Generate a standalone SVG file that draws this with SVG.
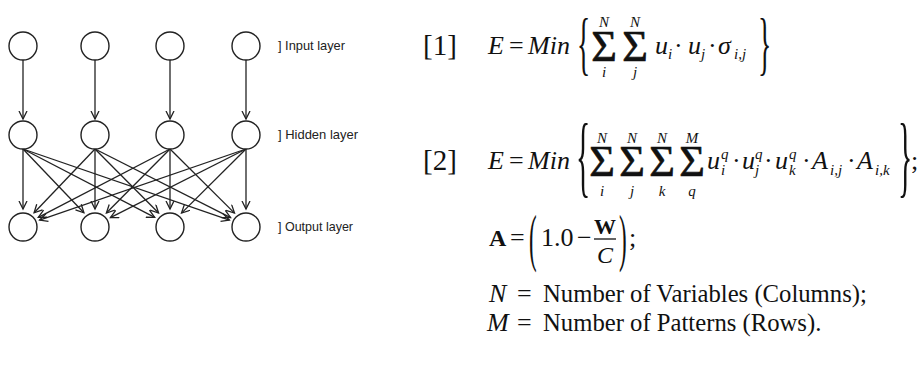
<svg xmlns="http://www.w3.org/2000/svg" width="924" height="366" viewBox="0 0 924 366">
<defs>
<style>
.node{fill:#fff;stroke:#222;stroke-width:1.4}
.edge{stroke:#222;stroke-width:1.3;fill:none;marker-end:url(#ah)}
.lbl{font-family:"Liberation Sans",Arial,sans-serif;font-size:13px;fill:#222}
.m{font-family:"Liberation Serif","Times New Roman",serif;fill:#111}
.it{font-style:italic}
.b{font-weight:bold}
.big{font-size:26px}
.sm{font-size:15px}
.sig{font-size:44px;stroke:#111;stroke-width:0.7}
.txt{font-size:24.7px}
</style>
<marker id="ah" markerWidth="10" markerHeight="10" refX="8.5" refY="4.5" orient="auto" markerUnits="userSpaceOnUse">
<path d="M0.5,0.5 L8.5,4.5 L0.5,8.5" fill="none" stroke="#222" stroke-width="1.3"/>
</marker>
</defs>
<rect width="924" height="366" fill="#fff"/>

<g id="connectors">
<line class="edge" x1="23" y1="60" x2="23" y2="119"/>
<line class="edge" x1="95" y1="60" x2="95" y2="119"/>
<line class="edge" x1="170" y1="60" x2="170" y2="119"/>
<line class="edge" x1="246" y1="60" x2="246" y2="119"/>

<line class="edge" x1="23" y1="149" x2="23" y2="209"/>
<line class="edge" x1="23" y1="149" x2="83.9" y2="212.8"/>
<line class="edge" x1="23" y1="149" x2="154.7" y2="217.4"/>
<line class="edge" x1="23" y1="149" x2="229.4" y2="220.1"/>

<line class="edge" x1="95" y1="149" x2="34.1" y2="212.8"/>
<line class="edge" x1="95" y1="149" x2="95" y2="209"/>
<line class="edge" x1="95" y1="149" x2="158.6" y2="213"/>
<line class="edge" x1="95" y1="149" x2="230.6" y2="217.6"/>

<line class="edge" x1="170" y1="149" x2="38.3" y2="217.4"/>
<line class="edge" x1="170" y1="149" x2="106.4" y2="213"/>
<line class="edge" x1="170" y1="149" x2="170" y2="209"/>
<line class="edge" x1="170" y1="149" x2="234.5" y2="213.1"/>

<line class="edge" x1="246" y1="149" x2="39.6" y2="220.1"/>
<line class="edge" x1="246" y1="149" x2="110.4" y2="217.6"/>
<line class="edge" x1="246" y1="149" x2="181.5" y2="213.1"/>
<line class="edge" x1="246" y1="149" x2="246" y2="209"/>
</g>

<g id="in1"><circle class="node" cx="23" cy="46" r="14"/></g>
<g id="in2"><circle class="node" cx="95" cy="46" r="14"/></g>
<g id="in3"><circle class="node" cx="170" cy="46" r="14"/></g>
<g id="in4"><circle class="node" cx="246" cy="46" r="14"/></g>
<g id="hid1"><circle class="node" cx="23" cy="135" r="14"/></g>
<g id="hid2"><circle class="node" cx="95" cy="135" r="14"/></g>
<g id="hid3"><circle class="node" cx="170" cy="135" r="14"/></g>
<g id="hid4"><circle class="node" cx="246" cy="135" r="14"/></g>
<g id="out1"><circle class="node" cx="23" cy="227" r="14"/></g>
<g id="out2"><circle class="node" cx="95" cy="227" r="14"/></g>
<g id="out3"><circle class="node" cx="170" cy="227" r="14"/></g>
<g id="out4"><circle class="node" cx="246" cy="227" r="14"/></g>

<g id="labels">
<text class="lbl" x="278" y="50" textLength="67" lengthAdjust="spacingAndGlyphs">] Input layer</text>
<text class="lbl" x="278" y="139" textLength="80" lengthAdjust="spacingAndGlyphs">] Hidden layer</text>
<text class="lbl" x="278" y="231" textLength="75" lengthAdjust="spacingAndGlyphs">] Output layer</text>
</g>

<g id="eq1" class="m">
<text x="423" y="55" font-size="29">[1]</text>
<text class="it big" x="488" y="54">E</text>
<text class="big" x="509" y="54">=</text>
<text class="it big" x="528" y="54">Min</text>
<text font-size="69" transform="translate(577,67) scale(0.4,1)">{</text>
<text class="sig" x="604" y="61" text-anchor="middle">Σ</text>
<text class="sig" x="635" y="61" text-anchor="middle">Σ</text>
<text class="it sm" x="604" y="27" text-anchor="middle">N</text>
<text class="it sm" x="635" y="27" text-anchor="middle">N</text>
<text class="it sm" x="604" y="77" text-anchor="middle">i</text>
<text class="it sm" x="635" y="77" text-anchor="middle">j</text>
<text class="it big" x="655" y="54">u</text>
<text class="it sm" x="668" y="59">i</text>
<text class="big" x="674" y="54">·</text>
<text class="it big" x="688" y="54">u</text>
<text class="it sm" x="701" y="59">j</text>
<text class="big" x="708" y="54">·</text>
<text class="it big" x="718" y="54">σ</text>
<text class="it sm" x="734" y="59">i,j</text>
<text font-size="69" transform="translate(758,67) scale(0.4,1)">}</text>
</g>

<g id="eq2" class="m">
<text x="423" y="170" font-size="29">[2]</text>
<text class="it big" x="488" y="169">E</text>
<text class="big" x="509" y="169">=</text>
<text class="it big" x="528" y="169">Min</text>
<text font-size="90" transform="translate(576,186) scale(0.33,1)">{</text>
<text class="sig" x="602" y="176" text-anchor="middle">Σ</text>
<text class="sig" x="632" y="176" text-anchor="middle">Σ</text>
<text class="sig" x="662" y="176" text-anchor="middle">Σ</text>
<text class="sig" x="692" y="176" text-anchor="middle">Σ</text>
<text class="it sm" x="602" y="143" text-anchor="middle">N</text>
<text class="it sm" x="632" y="143" text-anchor="middle">N</text>
<text class="it sm" x="662" y="143" text-anchor="middle">N</text>
<text class="it sm" x="692" y="143" text-anchor="middle">M</text>
<text class="it sm" x="602" y="196" text-anchor="middle">i</text>
<text class="it sm" x="632" y="196" text-anchor="middle">j</text>
<text class="it sm" x="662" y="196" text-anchor="middle">k</text>
<text class="it sm" x="692" y="196" text-anchor="middle">q</text>
<text class="it big" x="707" y="169">u</text>
<text class="it sm" x="721" y="159">q</text>
<text class="it sm" x="721" y="175">i</text>
<text class="big" x="732" y="169">·</text>
<text class="it big" x="742" y="169">u</text>
<text class="it sm" x="755" y="159">q</text>
<text class="it sm" x="755" y="175">j</text>
<text class="big" x="764" y="169">·</text>
<text class="it big" x="775" y="169">u</text>
<text class="it sm" x="789" y="159">q</text>
<text class="it sm" x="789" y="175">k</text>
<text class="big" x="802" y="169">·</text>
<text class="it big" x="812" y="169">A</text>
<text class="it sm" x="830" y="175">i,j</text>
<text class="big" x="847" y="169">·</text>
<text class="it big" x="857" y="169">A</text>
<text class="it sm" x="875" y="175">i,k</text>
<text font-size="90" transform="translate(898,186) scale(0.33,1)">}</text>
<text class="big" x="911" y="169">;</text>
</g>

<g id="defA" class="m">
<text class="b" font-size="24" x="489" y="246">A</text>
<text class="big" x="510" y="246">=</text>
<text font-size="64" transform="translate(529,259) scale(0.36,1)">(</text>
<text class="big" x="541" y="246">1.0</text>
<text class="big" x="577" y="246">−</text>
<text class="b" font-size="22" x="605" y="234" text-anchor="middle">W</text>
<line x1="594" y1="239" x2="616" y2="239" stroke="#111" stroke-width="1.3"/>
<text class="it" font-size="24" x="605" y="263" text-anchor="middle">C</text>
<text font-size="64" transform="translate(619,259) scale(0.36,1)">)</text>
<text class="big" x="629" y="246">;</text>
</g>

<g id="defN" class="m">
<text class="it big" x="489" y="302">N</text>
<text class="big" x="517" y="302">=</text>
<text class="txt" x="543" y="302">Number of Variables (Columns);</text>
</g>

<g id="defM" class="m">
<text class="it big" x="487" y="331">M</text>
<text class="big" x="517" y="331">=</text>
<text class="txt" x="543" y="331">Number of Patterns (Rows).</text>
</g>
</svg>
